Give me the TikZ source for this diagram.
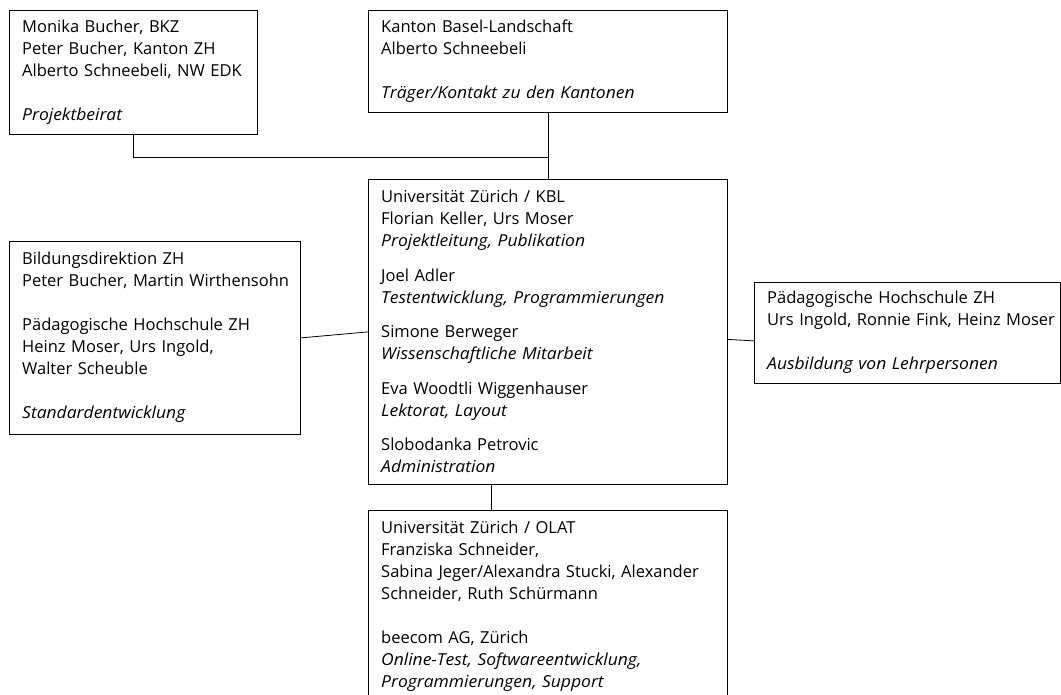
\documentclass[tikz,border=0pt]{standalone}
\usepackage{fontspec}
\setmainfont{Open Sans}[ItalicFeatures={FakeStretch=1.06}]
\begin{document}
\begin{tikzpicture}[x=1pt,y=-1pt,
  box/.style={draw=black, line width=0.8pt, rectangle, inner sep=0pt, anchor=north west},
  txt/.style={anchor=base west, inner sep=0pt, align=left, text width=345pt,
    font=\fontsize{16.5}{22}\selectfont},
  conn/.style={draw=black, line width=0.8pt}]
\useasboundingbox (0,0) rectangle (1061,695);
\clip (0,0) rectangle (1061,695);
% boxes
\node[box, minimum width=248pt, minimum height=124pt] (A) at (9,10) {};
\node[box, minimum width=359pt, minimum height=102pt] (B) at (368,10) {};
\node[box, minimum width=359pt, minimum height=305pt] (C) at (368,179) {};
\node[box, minimum width=291pt, minimum height=193pt] (D) at (9,241) {};
\node[box, minimum width=306pt, minimum height=101pt] (E) at (754,282) {};
\node[box, minimum width=359pt, minimum height=200pt] (F) at (368,510) {};
% texts
\node[txt] (tA) at (22,33) {Monika Bucher, BKZ\\Peter Bucher, Kanton ZH\\Alberto Schneebeli, NW EDK\\[22pt]\textit{Projektbeirat}};
\node[txt] (tB) at (381,33) {Kanton Basel-Landschaft\\Alberto Schneebeli\\[22pt]\textit{Träger/Kontakt zu den Kantonen}};
\node[txt] (tC) at (381,203) {Universität Zürich / KBL\\Florian Keller, Urs Moser\\\textit{Projektleitung, Publikation}\\[12.5pt]Joel Adler\\\textit{Testentwicklung, Programmierungen}\\[12.5pt]Simone Berweger\\\textit{Wissenschaftliche Mitarbeit}\\[12.5pt]Eva Woodtli Wiggenhauser\\\textit{Lektorat, Layout}\\[12.5pt]Slobodanka Petrovic\\\textit{Administration}};
\node[txt] (tD) at (22,265) {Bildungsdirektion ZH\\Peter Bucher, Martin Wirthensohn\\[22pt]Pädagogische Hochschule ZH\\Heinz Moser, Urs Ingold,\\Walter Scheuble\\[22pt]\textit{Standardentwicklung}};
\node[txt] (tE) at (767,304) {Pädagogische Hochschule ZH\\Urs Ingold, Ronnie Fink, Heinz Moser\\[22pt]\textit{Ausbildung von Lehrpersonen}};
\node[txt] (tF) at (381,533) {Universität Zürich / OLAT\\Franziska Schneider,\\Sabina Jeger/Alexandra Stucki, Alexander\\Schneider, Ruth Schürmann\\[22pt]beecom AG, Zürich\\\textit{Online-Test, Softwareentwicklung,}\\\textit{Programmierungen, Support}};
% connectors
\coordinate (J) at (547.5,157);
\draw[conn] (A.south) |- (J);
\draw[conn] (B.south) -- (C.north);
\draw[conn] (D.east) -- (C.west);
\draw[conn] ([yshift=-7.5pt]C.east) -- ([yshift=-8pt]E.west);
\draw[conn] ([xshift=-56.5pt]C.south) -- ([xshift=-56.5pt]F.north);
\end{tikzpicture}
\end{document}
